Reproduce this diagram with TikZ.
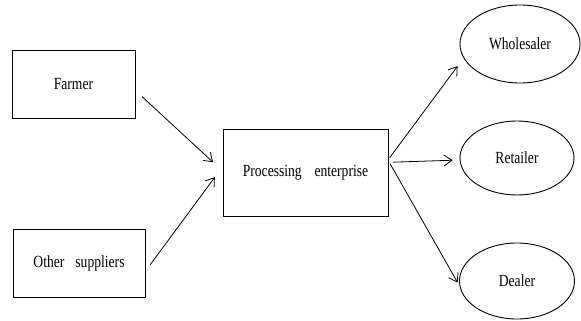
\documentclass[tikz,border=0pt]{standalone}
\usepackage{fontspec}
\setmainfont{Liberation Serif}[FakeStretch=0.8]
\usetikzlibrary{arrows.meta,shapes.geometric}

\begin{document}
\begin{tikzpicture}[x=1pt,y=-1pt,
  box/.style={draw,line width=0.9pt,inner sep=0pt,font=\fontsize{17}{20}\selectfont},
  oval/.style={box,ellipse},
  flow/.style={line width=0.8pt,-{Straight Barb[length=8pt,width=11pt,line width=0.8pt]}}]
\useasboundingbox (0,0) rectangle (581,321);
\node[box,minimum width=123pt,minimum height=68pt] (farmer) at (73.5,84) {Farmer};
\node[box,minimum width=132pt,minimum height=68pt] (other) at (79,263) {Other\hspace{0.65em}suppliers};
\node[box,minimum width=165pt,minimum height=87pt] (proc) at (305.5,172.5) {Processing\hspace{0.75em}enterprise};
\node[oval,minimum width=120pt,minimum height=78pt] (whole) at (520,44) {Wholesaler};
\node[oval,minimum width=114pt,minimum height=74pt] (retail) at (517,158) {Retailer};
\node[oval,minimum width=115pt,minimum height=76pt] (dealer) at (517,281) {Dealer};
\draw[flow,shorten <=9pt,shorten >=13pt] (farmer.-6) -- (proc.179);
\draw[flow,shorten <=8pt,shorten >=13pt] (other.-7) -- (proc.176);
\draw[flow,shorten <=2pt,shorten >=10pt] (proc.9.6) -- (whole.194);
\draw[flow,shorten <=5pt,shorten >=7pt] (proc.7) -- (retail.182);
\draw[flow,shorten <=3pt,shorten >=4pt] (proc.8.3) -- (dealer.185);
\end{tikzpicture}
\end{document}
